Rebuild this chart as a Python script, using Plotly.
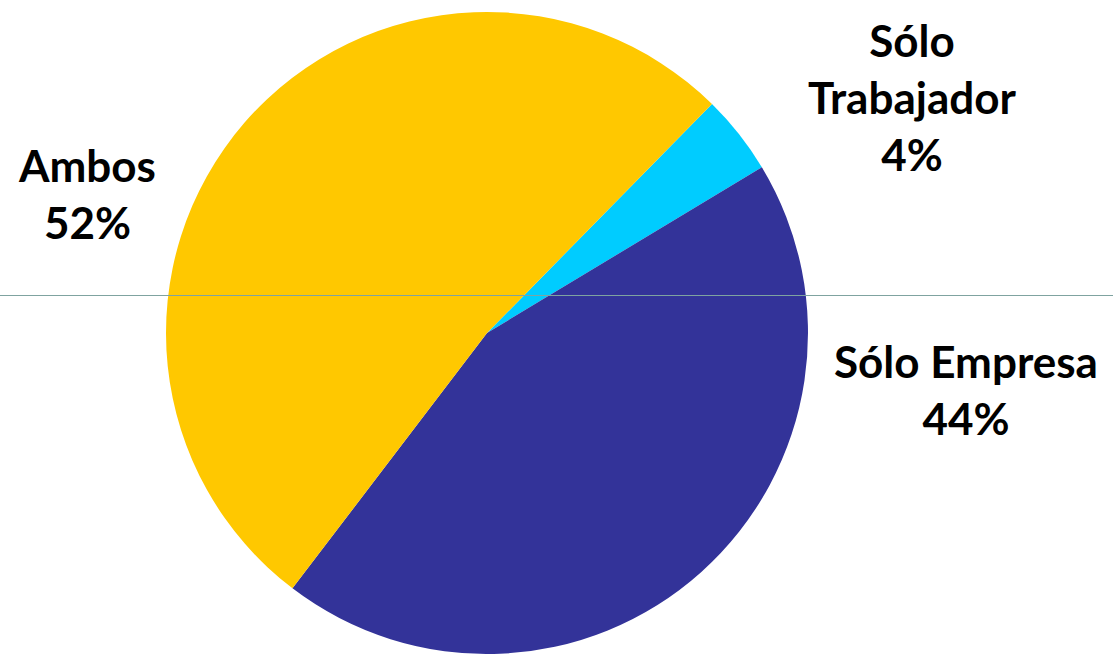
import plotly.graph_objects as go

labels = ["Sólo Trabajador", "Sólo Empresa", "Ambos"]
values = [4, 44, 52]
colors = ["#00CCFF", "#333399", "#FFC800"]
label_text = ["Sólo<br>Trabajador<br>4%", "Sólo Empresa<br>44%", "Ambos<br>52%"]

W, H = 1113, 654
cx, cy, r = 487, 333, 321

fig = go.Figure(go.Pie(
    labels=labels, values=values, sort=False, direction="clockwise",
    rotation=44.5, marker=dict(colors=colors, line=dict(width=0)),
    textinfo="none", hoverinfo="label+percent", showlegend=False,
    domain=dict(x=[(cx - r) / W, (cx + r) / W], y=[(H - cy - r) / H, (H - cy + r) / H]),
))

font = dict(family="Lato, 'Open Sans', sans-serif", size=44, color="#000000")
positions = [(912, 97), (966, 389), (87, 194)]
for txt, (x, y) in zip(label_text, positions):
    fig.add_annotation(x=x / W, y=1 - y / H, xref="paper", yref="paper",
                       text="<b>" + txt + "</b>", showarrow=False, font=font,
                       xanchor="center", yanchor="middle", align="center")

fig.add_shape(type="line", xref="paper", yref="paper", x0=0, x1=1,
              y0=1 - 295.5 / H, y1=1 - 295.5 / H,
              line=dict(color="#7FA3A0", width=1), layer="above")

fig.update_layout(width=W, height=H, margin=dict(l=0, r=0, t=0, b=0),
                  paper_bgcolor="white", plot_bgcolor="white")
fig.write_html("out.html")
